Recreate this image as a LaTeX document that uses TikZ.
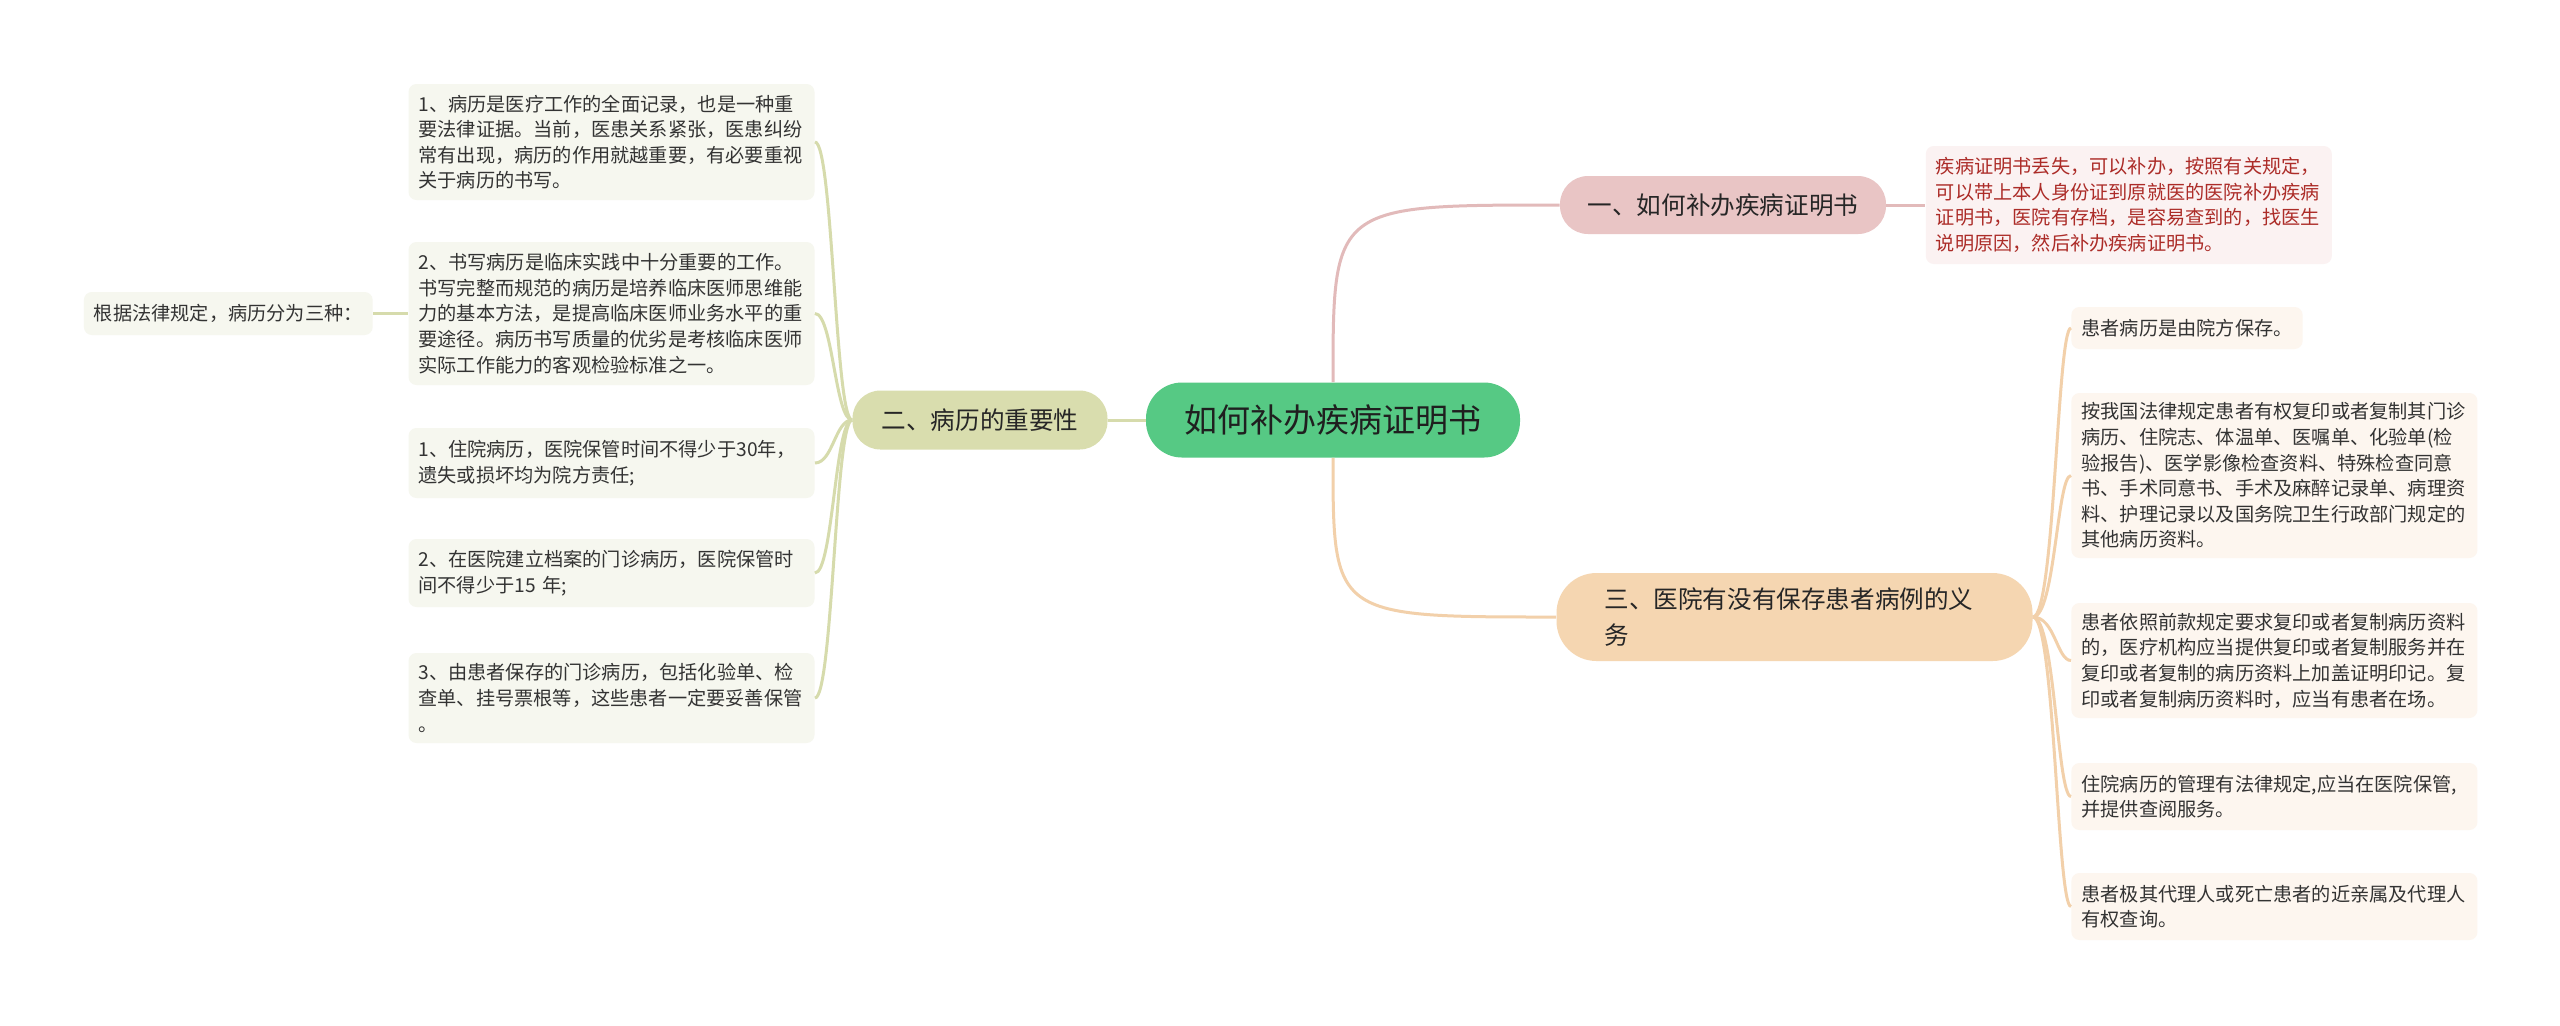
\documentclass[tikz,border=0pt]{standalone}
\usepackage{fontspec}
\newfontfamily\cjk{Noto Sans CJK SC}
\usetikzlibrary{positioning}
\definecolor{rootgreen}{RGB}{86,201,132}
\definecolor{erfill}{RGB}{217,221,174}
\definecolor{erline}{RGB}{214,219,172}
\definecolor{yifill}{RGB}{233,197,197}
\definecolor{yiline}{RGB}{226,186,186}
\definecolor{sanfill}{RGB}{245,214,177}
\definecolor{sanline}{RGB}{242,208,170}
\definecolor{leafG}{RGB}{246,247,239}
\definecolor{leafY}{RGB}{251,242,242}
\definecolor{leafS}{RGB}{253,246,239}
\definecolor{redtext}{RGB}{172,44,40}
\definecolor{textgray}{RGB}{51,51,51}

\begin{document}
\begin{tikzpicture}[x=0.5pt, y=-0.5pt,
  hub/.style={fill=rootgreen, rounded corners=18pt, minimum width=187pt, minimum height=37.5pt, inner sep=0pt, font=\cjk\fontsize{16.5}{20}\selectfont, text=black!88},
  topic/.style={rounded corners=14pt, inner sep=0pt, font=\cjk\fontsize{12.3}{18}\selectfont, text=black!85},
  leaf/.style={rounded corners=4pt, inner xsep=5pt, inner ysep=4pt, align=left, font=\cjk\fontsize{9.6}{12.8}\selectfont, text=textgray},
  wide/.style={leaf, text width=193pt},
  lnk/.style={line width=1.5pt}
]
\path[fill=white] (0,0) rectangle (2560,1025);
\useasboundingbox (0,0) rectangle (2560,1025);

\node[hub] (root) at (1333,420) {如何补办疾病证明书};
\node[topic, fill=erfill, minimum width=127.5pt, minimum height=29.5pt] (er) at (980,420) {二、病历的重要性};
\node[topic, fill=yifill, minimum width=163pt, minimum height=29pt] (yi) at (1723,205) {一、如何补办疾病证明书};
\node[topic, fill=sanfill, rounded corners=20pt, inner xsep=24pt, text width=190pt, align=left, minimum height=44pt] (san) at (1794.5,617) {三、医院有没有保存患者病例的义\\务};

\node[wide, fill=leafY, text=redtext, minimum height=59pt, right=19.5pt of yi] (yid) {疾病证明书丢失，可以补办，按照有关规定，\\可以带上本人身份证到原就医的医院补办疾病\\证明书，医院有存档，是容易查到的，找医生\\说明原因，然后补办疾病证明书。};

\node[wide, fill=leafG, minimum height=58pt] (l1) at (611.5,142) {1、病历是医疗工作的全面记录，也是一种重\\要法律证据。当前，医患关系紧张，医患纠纷\\常有出现，病历的作用就越重要，有必要重视\\关于病历的书写。};
\node[wide, fill=leafG, minimum height=71.5pt] (l2) at (611.5,313.5) {2、书写病历是临床实践中十分重要的工作。\\书写完整而规范的病历是培养临床医师思维能\\力的基本方法，是提高临床医师业务水平的重\\要途径。病历书写质量的优劣是考核临床医师\\实际工作能力的客观检验标准之一。};
\node[wide, fill=leafG, minimum height=35pt] (l3) at (611.5,463) {1、住院病历，医院保管时间不得少于30年，\\遗失或损坏均为院方责任;};
\node[wide, fill=leafG, minimum height=34pt] (l4) at (611.5,573) {2、在医院建立档案的门诊病历，医院保管时\\间不得少于15 年;};
\node[wide, fill=leafG, minimum height=45pt] (l5) at (611.5,698) {3、由患者保存的门诊病历，包括化验单、检\\查单、挂号票根等，这些患者一定要妥善保管\\。};
\node[leaf, fill=leafG, minimum height=21.5pt, left=17.5pt of l2] (gj) {根据法律规定，病历分为三种：};

\node[leaf, fill=leafS, minimum height=21pt, anchor=west] (r1) at (2071,328) {患者病历是由院方保存。};
\node[wide, fill=leafS, minimum height=82.5pt, anchor=west] (r2) at (2071,475.5) {按我国法律规定患者有权复印或者复制其门诊\\病历、住院志、体温单、医嘱单、化验单(检\\验报告)、医学影像检查资料、特殊检查同意\\书、手术同意书、手术及麻醉记录单、病理资\\料、护理记录以及国务院卫生行政部门规定的\\其他病历资料。};
\node[wide, fill=leafS, minimum height=57.5pt, anchor=west] (r3) at (2071,660.5) {患者依照前款规定要求复印或者复制病历资料\\的，医疗机构应当提供复印或者复制服务并在\\复印或者复制的病历资料上加盖证明印记。复\\印或者复制病历资料时，应当有患者在场。};
\node[wide, fill=leafS, minimum height=33.5pt, anchor=west] (r4) at (2071,796.5) {住院病历的管理有法律规定,应当在医院保管,\\并提供查阅服务。};
\node[wide, fill=leafS, minimum height=33.5pt, anchor=west] (r5) at (2071,906.5) {患者极其代理人或死亡患者的近亲属及代理人\\有权查询。};

\draw[lnk, erline] (root.west) -- (er.east);
\draw[lnk, erline] (gj.east) -- (l2.west);
\foreach \n in {l1,l2,l3,l4,l5}
  \draw[lnk, erline] (er.west) .. controls ([xshift=-8.5pt]er.west) and ([xshift=9pt]\n.east) .. (\n.east);
\draw[lnk, yiline] (root.north) .. controls (root.north |- yi.west) .. (yi.west);
\draw[lnk, yiline] (yi.east) -- (yid.west);
\draw[lnk, sanline] (root.south) .. controls (root.south |- san.west) .. (san.west);
\foreach \n in {r1,r2,r3,r4,r5}
  \draw[lnk, sanline] (san.east) .. controls ([xshift=11pt]san.east) and ([xshift=-7pt]\n.west) .. (\n.west);
\end{tikzpicture}
\end{document}
